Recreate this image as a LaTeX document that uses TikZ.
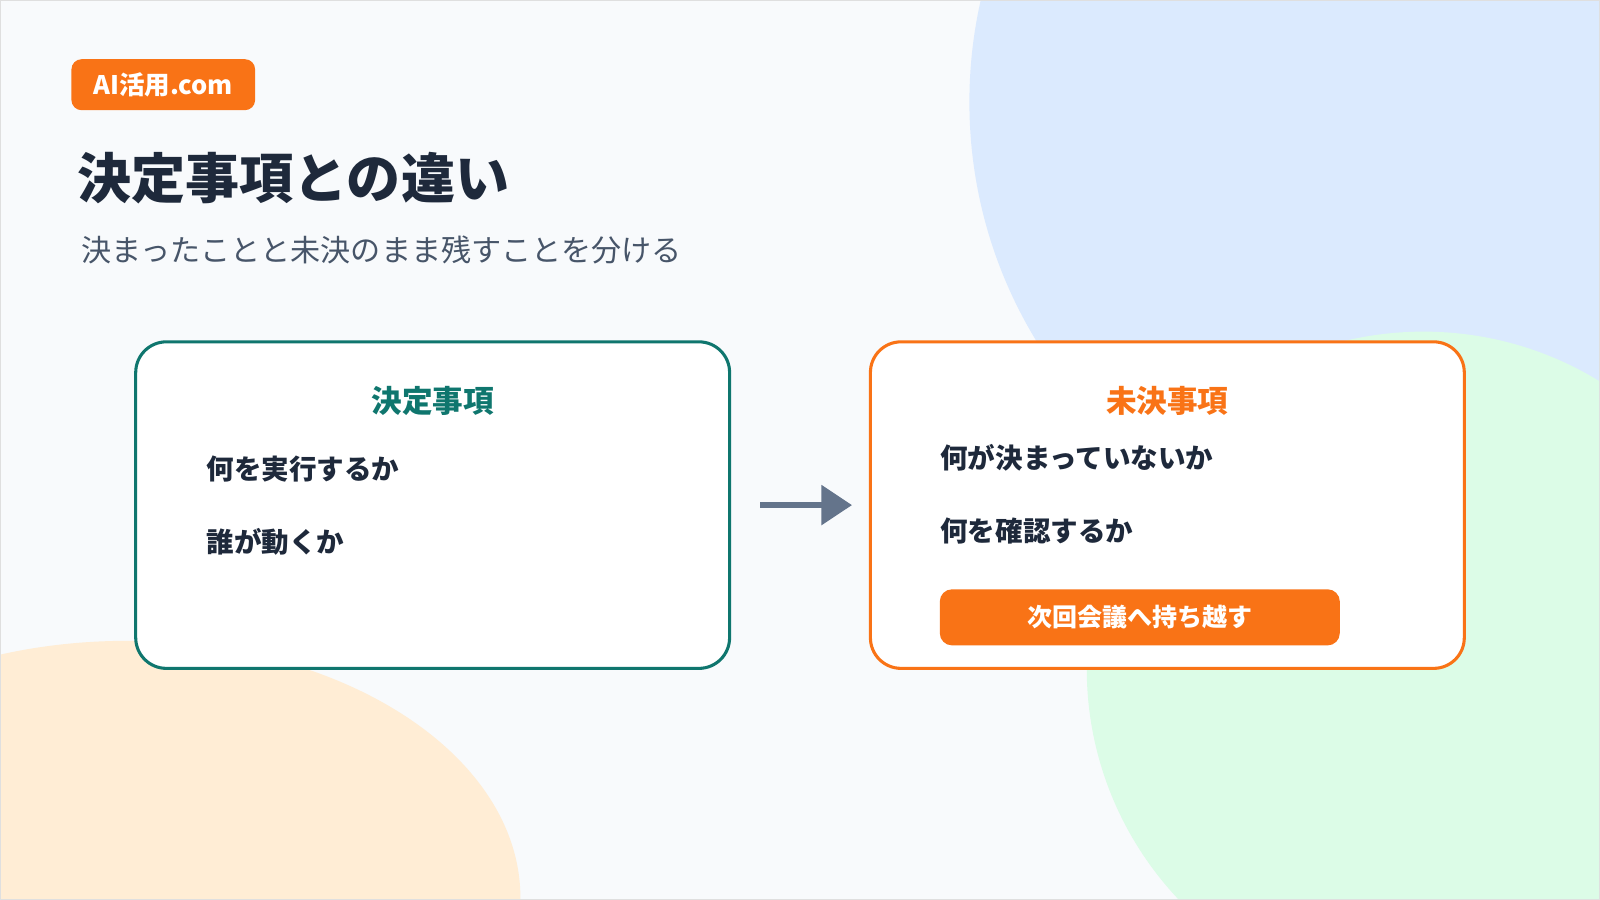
\documentclass[tikz,border=0pt]{standalone}
\usepackage{fontspec}
\setmainfont{Noto Sans CJK JP}
\usetikzlibrary{arrows.meta}
\definecolor{bg}{HTML}{F8FAFC}
\definecolor{cblue}{HTML}{DBEAFE}
\definecolor{cgreen}{HTML}{DCFCE7}
\definecolor{corange}{HTML}{FFEDD5}
\definecolor{orng}{HTML}{F97316}
\definecolor{teal}{HTML}{0F766E}
\definecolor{ink}{HTML}{1E293B}
\definecolor{sub}{HTML}{475569}
\definecolor{arr}{HTML}{64748B}
\tikzset{
 card/.style={draw=#1,line width=3pt,fill=white,rounded corners=30pt},
 head/.style={font=\fontsize{30}{32}\selectfont\bfseries,text=#1},
 item/.style={anchor=west,font=\fontsize{27}{30}\selectfont\bfseries,text=ink},
}
\begin{document}
\begin{tikzpicture}[x=1pt,y=-1pt]
\useasboundingbox (0,0) rectangle (1568,882);
\begin{scope}
\clip (0,0) rectangle (1568,882);
\fill[bg] (0,0) rectangle (1568,882);
\fill[cblue] (1400,100) circle (450);
\fill[cgreen] (1395,655) circle (330);
\fill[corange] (125,880) ellipse (385 and 252);
\end{scope}
\draw[gray!25,line width=1pt] (0.5,0.5) rectangle (1567.5,881.5);
\node[fill=orng,rounded corners=10pt,minimum width=180pt,minimum height=50pt,text=white,font=\fontsize{25}{28}\selectfont\bfseries] (badge) at (160,83) {AI活用.com};
\node[anchor=west,text=ink,font=\fontsize{53}{58}\selectfont\bfseries] (title) at (72,175) {決定事項との違い};
\node[anchor=west,text=sub,font=\fontsize{29.5}{32}\selectfont] (subt) at (76,245) {決まったことと未決のまま残すことを分ける};
\draw[card=teal] (133,335) rectangle (715,655);
\coordinate (lbE) at (715,495);
\node[head=teal] (lh) at (424,393) {決定事項};
\node[item] (l1) at (199,460) {何を実行するか};
\node[item] (l2) at (199,531) {誰が動くか};
\draw[card=orng] (853,335) rectangle (1435,655);
\coordinate (rbW) at (853,495);
\node[head=orng] (rh) at (1144,393) {未決事項};
\node[item] (r1) at (918,449) {何が決まっていないか};
\node[item] (r2) at (918,520) {何を確認するか};
\node[fill=orng,rounded corners=12pt,minimum width=392pt,minimum height=55pt,text=white,font=\fontsize{24.5}{28}\selectfont\bfseries] (btn) at (1117,605) {次回会議へ持ち越す};
\draw[arr,line width=6pt,-{Triangle[length=30pt,width=38pt]}] ([xshift=30pt]lbE) -- ([xshift=-18pt]rbW);
\end{tikzpicture}
\end{document}
